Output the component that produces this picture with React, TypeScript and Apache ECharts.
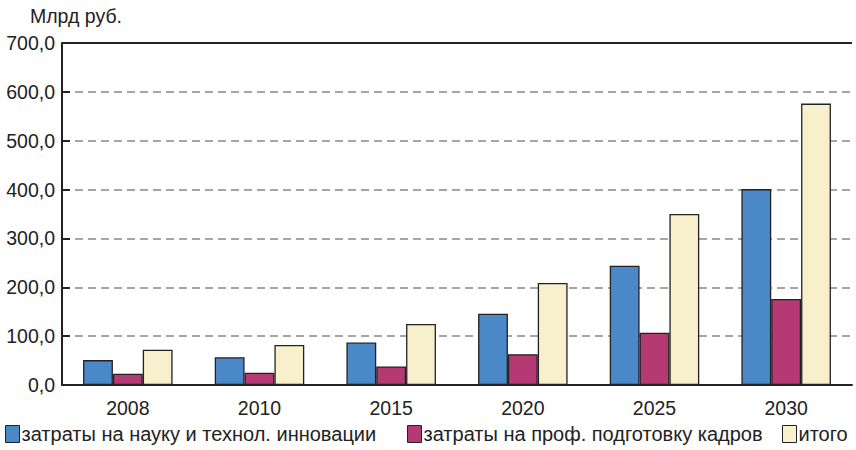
import React, { useEffect, useRef } from "react";
import * as echarts from "echarts";

const categories = ["2008", "2010", "2015", "2020", "2025", "2030"];
const science = [51, 57, 87, 146, 244, 401];
const training = [23, 25, 38, 63, 107, 176];
const total = [72, 82, 125, 209, 350, 576];
const seriesNames = [
  "затраты на науку и технол. инновации",
  "затраты на проф. подготовку кадров",
  "итого",
];
const yTicks = [0, 100, 200, 300, 400, 500, 600, 700];

export default function App() {
  const ref = useRef<HTMLDivElement>(null);
  useEffect(() => {
    const chart = echarts.init(ref.current!, null, { renderer: "svg" });
    const font = "Liberation Sans, Arial, sans-serif";
    const barStyle = (color: string) => ({
      color,
      borderColor: "#222",
      borderWidth: 1.3,
    });
    const legendLefts = [5, 407, 782];
    chart.setOption({
      animation: false,
      textStyle: { fontFamily: font },
      grid: { left: 62, right: 4, top: 43, bottom: 65 },
      graphic: [
        {
          type: "text",
          left: 30,
          top: 6,
          style: { text: "Млрд руб.", font: `19.5px ${font}`, fill: "#222" },
        },
      ],
      legend: seriesNames.map((n, i) => ({
        bottom: 1,
        left: legendLefts[i] - 5,
        itemWidth: 14,
        itemHeight: 17,
        icon: "rect",
        textStyle: { fontSize: 20, color: "#222", padding: [0, 0, 0, -3] },
        data: [{ name: n, itemStyle: { borderColor: "#222", borderWidth: 1 } }],
      })),
      xAxis: {
        type: "category",
        data: categories,
        axisLine: { lineStyle: { color: "#222", width: 2 } },
        axisTick: { inside: true, length: 12, lineStyle: { color: "#222", width: 2 } },
        axisLabel: { fontSize: 19.5, color: "#222", margin: 13 },
      },
      yAxis: {
        type: "value",
        min: 0,
        max: 700,
        interval: 100,
        axisLine: { show: true, lineStyle: { color: "#222", width: 2 } },
        axisTick: { show: true, inside: true, length: 8, lineStyle: { color: "#222", width: 2 } },
        axisLabel: {
          fontSize: 19.5,
          color: "#222",
          margin: 7,
          formatter: (v: number) => (yTicks.includes(v) ? v.toFixed(1).replace(".", ",") : ""),
        },
        splitLine: { show: true, lineStyle: { color: "#888", type: [8, 5], width: 1.5 } },
      },
      series: [
        {
          name: seriesNames[0],
          type: "bar",
          data: science,
          barGap: "0%",
          barCategoryGap: "32%",
          itemStyle: barStyle("#4a88c7"),
          markLine: {
            silent: true,
            symbol: "none",
            label: { show: false },
            lineStyle: { color: "#222", type: "solid", width: 2 },
            data: [{ yAxis: 700 }],
          },
        },
        { name: seriesNames[1], type: "bar", data: training, barGap: "0%", itemStyle: barStyle("#b53a74") },
        { name: seriesNames[2], type: "bar", data: total, barGap: "0%", itemStyle: barStyle("#f8f0cd") },
      ],
    });
    return () => chart.dispose();
  }, []);
  return <div ref={ref} style={{ width: 856, height: 450, position: "absolute", left: 0, top: 0 }} />;
}
